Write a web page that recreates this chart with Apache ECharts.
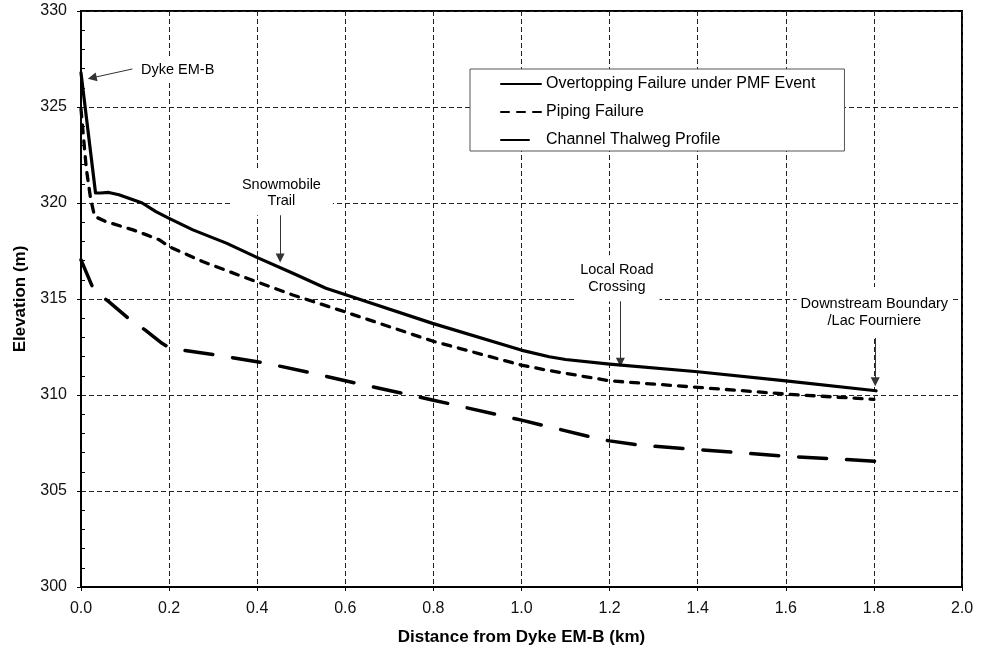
<!DOCTYPE html>
<html><head><meta charset="utf-8">
<script src="https://cdn.jsdelivr.net/npm/echarts@6/dist/echarts.min.js"></script>
<style>html,body{margin:0;padding:0;background:#fff}#c{width:990px;height:652px}</style>
</head><body><div id="c"></div>
<script>
// ---- data (distance km, elevation m) ----
const seriesNames = ['Overtopping Failure under PMF Event', 'Piping Failure', 'Channel Thalweg Profile'];
const overtopping = [
  [0, 326.78], [0.033, 320.52], [0.044, 320.52], [0.063, 320.55], [0.086, 320.43],
  [0.139, 320.0], [0.17, 319.55], [0.2, 319.2], [0.254, 318.6], [0.33, 317.91],
  [0.398, 317.18], [0.481, 316.34], [0.556, 315.56], [0.62, 315.08], [0.798, 313.73],
  [0.999, 312.34], [1.063, 311.99], [1.1, 311.85], [1.2, 311.61], [1.4, 311.21],
  [1.6, 310.74], [1.805, 310.22]
];
const piping = [
  [0, 324.9], [0.012, 321.8], [0.022, 320.2], [0.031, 319.3], [0.057, 319.03],
  [0.118, 318.6], [0.149, 318.34], [0.178, 318.08], [0.2, 317.73], [0.276, 316.95],
  [0.398, 315.9], [0.481, 315.21], [0.598, 314.34], [0.798, 312.81], [0.999, 311.56],
  [1.056, 311.3], [1.2, 310.74], [1.4, 310.4], [1.6, 310.05], [1.8, 309.77]
];
const thalweg = [
  [0, 317.04], [0.029, 315.47], [0.063, 314.86], [0.112, 313.91], [0.146, 313.38],
  [0.184, 312.69], [0.203, 312.43], [0.256, 312.25], [0.308, 312.08], [0.421, 311.65],
  [0.527, 311.13], [0.61, 310.69], [0.8, 309.73], [1.0, 308.69], [1.162, 307.79],
  [1.2, 307.61], [1.268, 307.39], [1.4, 307.16], [1.6, 306.81], [1.805, 306.55]
];
const xAxisTitle = 'Distance from Dyke EM-B (km)';
const yAxisTitle = 'Elevation (m)';
// annotations (data coordinates)
const annotationArrows = [
  [[0.1166, 326.98], [0.0254, 326.52]],
  [[0.452, 319.38], [0.452, 317.13]],
  [[1.2245, 315.04], [1.2245, 311.70]],
  [[1.803, 313.12], [1.803, 310.69]]
];
const annotationTexts = ['Dyke EM-B', 'Snowmobile\nTrail', 'Local Road\nCrossing', 'Downstream Boundary\n/Lac Fourniere'];
const annotationAnchors = [[0.2195, 326.91], [0.455, 320.53], [1.2165, 316.08], [1.801, 314.30]];
const annotationPadding = [[3, 4, 3, 4], [7, 12, 5, 12], [10, 6, 3, 6], [12, 4, 6, 4]];

const FONT = 'Liberation Sans, Arial, sans-serif';
const chart = echarts.init(document.getElementById('c'), null, {renderer: 'canvas'});
const grid = {left: 81, right: 28, top: 11, bottom: 65, show: true, borderColor: '#000', borderWidth: 2, backgroundColor: 'transparent'};
const gridLine = {show: true, lineStyle: {color: '#222', width: 1, type: [5, 3]}};

const markPointData = annotationTexts.map((t, i) => ({
  coord: annotationAnchors[i], symbol: 'rect', symbolSize: 0,
  label: {
    show: true, position: 'inside', formatter: t, color: '#000',
    fontFamily: FONT, fontSize: 14.5, lineHeight: 16.5, align: 'center',
    backgroundColor: '#fff', padding: annotationPadding[i]
  }
}));
const markLineData = annotationArrows.map(a => [{coord: a[0]}, {coord: a[1]}]);

const option = {
  animation: false,
  backgroundColor: '#fff',
  grid: grid,
  legend: {
    show: true, orient: 'vertical', left: 470, top: 69,
    padding: [7, 29, 3, 30], itemGap: 12, itemWidth: 40, itemHeight: 14,
    backgroundColor: '#fff', borderColor: '#555', borderWidth: 1,
    selectedMode: false,
    itemStyle: {color: 'rgba(0,0,0,0)', borderWidth: 0, opacity: 0},
    textStyle: {fontFamily: FONT, fontSize: 16, color: '#000'},
    data: seriesNames
  },
  xAxis: {
    type: 'value', min: 0, max: 2, interval: 0.2,
    axisLine: {show: true, onZero: false, lineStyle: {color: '#000', width: 2}},
    axisTick: {show: true, length: 4, lineStyle: {color: '#000', width: 1}},
    axisLabel: {fontFamily: FONT, fontSize: 16, color: '#111', margin: 14, formatter: v => v.toFixed(1)},
    splitLine: gridLine,
    name: xAxisTitle, nameLocation: 'middle', nameGap: 42,
    nameTextStyle: {fontFamily: FONT, fontSize: 17, fontWeight: 'bold', color: '#000'}
  },
  yAxis: [{
    type: 'value', min: 300, max: 330, interval: 5,
    axisLine: {show: true, onZero: false, lineStyle: {color: '#000', width: 2}},
    axisTick: {show: true, length: 4, lineStyle: {color: '#000', width: 1}},
    axisLabel: {fontFamily: FONT, fontSize: 16, color: '#111', margin: 14},
    splitLine: gridLine,
    name: yAxisTitle, nameLocation: 'middle', nameGap: 52, nameRotate: 90,
    nameTextStyle: {fontFamily: FONT, fontSize: 17, fontWeight: 'bold', color: '#000'}
  }, {
    type: 'value', min: 300, max: 330, interval: 5, position: 'left', offset: 0,
    axisLine: {show: false}, axisLabel: {show: false}, splitLine: {show: false},
    axisTick: {show: false, inside: true},
    minorTick: {show: true, splitNumber: 5, length: 4, lineStyle: {color: '#000', width: 1}}
  }],
  series: [
    {
      name: seriesNames[0], type: 'line', data: overtopping, symbol: 'none', z: 5,
      lineStyle: {color: '#000', width: 3.2, type: 'solid', cap: 'round', join: 'round'},
      itemStyle: {color: '#000'},
      markLine: {
        silent: true, symbol: ['none', 'triangle'], symbolSize: 9, precision: 4,
        lineStyle: {color: '#333', width: 1, type: 'solid'},
        itemStyle: {color: '#333'},
        label: {show: false}, emphasis: {disabled: true},
        data: markLineData
      },
      markPoint: {silent: true, data: markPointData}
    },
    {
      name: seriesNames[1], type: 'line', data: piping, symbol: 'none', z: 4,
      lineStyle: {color: '#000', width: 3.3, type: [8, 8], cap: 'round', join: 'round'},
      itemStyle: {color: '#000'}
    },
    {
      name: seriesNames[2], type: 'line', data: thalweg, symbol: 'none', z: 4,
      lineStyle: {color: '#000', width: 3.5, type: [28, 20], cap: 'round', join: 'round'},
      itemStyle: {color: '#000'}
    }
  ]
};
chart.setOption(option);
</script></body></html>
